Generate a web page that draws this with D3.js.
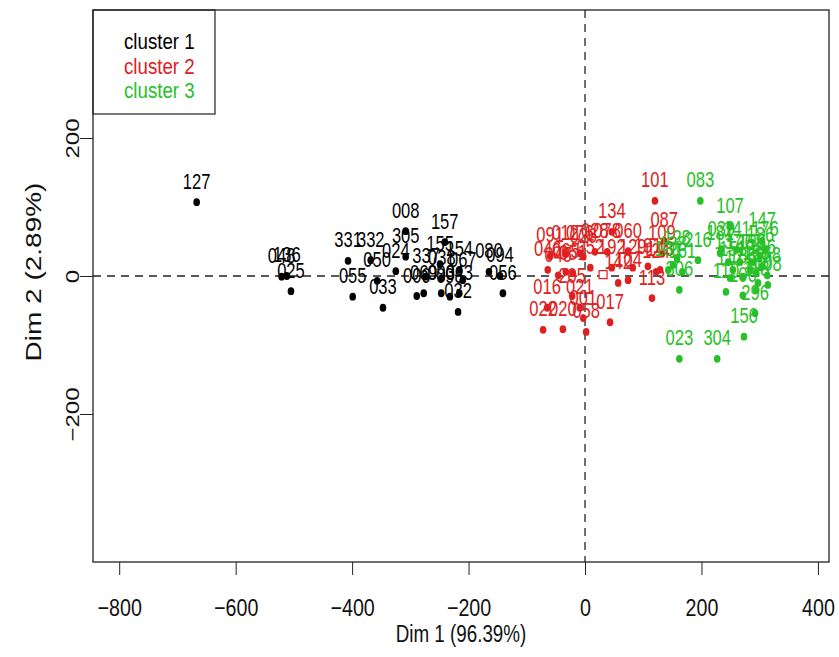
<!DOCTYPE html>
<html><head><meta charset="utf-8">
<script src="https://cdn.jsdelivr.net/npm/d3@7"></script>
<style>body{margin:0;background:#fff}svg{display:block}text{font-family:"Liberation Sans",Arial,sans-serif}</style>
</head><body>
<svg id="c" width="839" height="657"></svg>
<script>
// ---- data (Dim 1, Dim 2 coordinates) ----
const cluster1Labels = ["127","048","136","025","331","332","055","050","033","024","305","008","157","006","069","337","155","038","093","098","154","067","043","032","080","094","056"];
const cluster1X = [-667,-521,-512,-505,-407,-368,-399,-357,-347,-325,-308,-308,-241,-289,-277,-273,-249,-246,-247,-232,-216,-210,-216,-218,-165,-146,-141];
const cluster1Y = [107,-1,0,-22,22,23,-30,-7,-46,7,28,65,49,-29,-25,-1,17,-3,-25,-30,9,-6,-25,-52,6,0,-25];

const cluster2Labels = ["101","134","087","091","012","076","028","078","060","109","046","065","052","192","129","191","142","143","124","205","016","021","001","017","022","020","058","113","045","051","026","104"];
const cluster2X = [120,46,136,-60,-34,-9,17,38,74,132,-64,-33,9,46,82,108,57,129,122,-22,-65,-9,-3,43,-72,-38,2,115,-46,-21,-3,74];
const cluster2Y = [109,64,51,29,32,33,35,35,36,32,9,6,12,12,12,14,-10,9,6,-29,-46,-46,-61,-67,-78,-77,-81,-32,1,4,28,-6];

const cluster3Labels = ["083","107","023","304","156","296","306","110","039","147","216","128","161","131","138","188","198","168","146","158","100","106","118","186","176","196","108","126","117","181","141","137","151"];
const cluster3X = [198,249,162,227,273,292,162,242,234,304,194,158,167,143,151,271,284,294,304,313,297,271,294,301,309,287,314,266,249,232,261,246,254];
const cluster3Y = [109,72,-120,-120,-88,-54,-20,-23,39,51,23,25,6,9,16,-1,9,4,13,1,-10,-28,-20,29,38,20,-13,20,-3,33,38,20,9];

const squareX = [31], squareY = [2];

const xTicks = [-800,-600,-400,-200,0,200,400];
const yTicks = [-200,0,200];
const legendLabels = ["cluster 1","cluster 2","cluster 3"];
const xTitle = "Dim 1 (96.39%)", yTitle = "Dim 2 (2.89%)";

// ---- layout ----
const colors = ["#000000","#e02020","#27c027"];
const L = 93, R = 829, T = 10, B = 562;
const SX = 0.8; // horizontal squeeze of glyphs, as in the reference
const x = d3.scaleLinear().domain([-845,419]).range([L,R]);
const y = d3.scaleLinear().domain([-414.5,385.5]).range([B,T]);
const svg = d3.select("#c");

// zero lines
svg.append("line").attr("x1",L).attr("x2",R).attr("y1",y(0)).attr("y2",y(0))
  .attr("stroke","#222").attr("stroke-width",1.3).attr("stroke-dasharray","8,6");
svg.append("line").attr("x1",x(0)).attr("x2",x(0)).attr("y1",T).attr("y2",B)
  .attr("stroke","#222").attr("stroke-width",1.3).attr("stroke-dasharray","8,6");

// axes
const xAxis = d3.axisBottom(x).tickValues(xTicks).tickSize(13).tickFormat(d3.format("d"));
const gx = svg.append("g").attr("transform",`translate(0,${B})`).call(xAxis);
gx.select(".domain").remove();
gx.selectAll("line").attr("stroke","#222");
gx.selectAll("text").attr("font-size",24).attr("fill","#111").attr("font-family","Liberation Sans, Arial")
  .attr("x",0).attr("y",0).attr("dy",null).attr("text-anchor","middle")
  .attr("transform",`translate(0,54) scale(0.82,1)`);

const yAxis = d3.axisLeft(y).tickValues(yTicks).tickSize(13).tickFormat(d3.format("d"));
const gy = svg.append("g").attr("transform",`translate(${L},0)`).call(yAxis);
gy.select(".domain").remove();
gy.selectAll("line").attr("stroke","#222");
gy.selectAll("text").attr("font-size",24).attr("fill","#111").attr("font-family","Liberation Sans, Arial")
  .attr("text-anchor","middle").attr("x",0).attr("y",0).attr("dy",null)
  .attr("transform",`translate(-14,0) scale(0.77,1) rotate(-90)`);

// titles
svg.append("text").attr("transform",`translate(${(L+R)/2},642) scale(${SX},1)`).attr("text-anchor","middle")
  .attr("font-size",23.5).attr("fill","#111").text(xTitle);
svg.append("text").attr("transform",`translate(41,272) scale(0.8,1) rotate(-90)`).attr("text-anchor","middle")
  .attr("font-size",28).attr("fill","#111").text(yTitle);

// points & labels
const clusters = [
  {labels:cluster1Labels,xs:cluster1X,ys:cluster1Y},
  {labels:cluster2Labels,xs:cluster2X,ys:cluster2Y},
  {labels:cluster3Labels,xs:cluster3X,ys:cluster3Y}
];
clusters.forEach((c,ci)=>{
  const data = c.labels.map((l,i)=>({l,x:c.xs[i],y:c.ys[i]}));
  svg.append("g").selectAll("ellipse").data(data).join("ellipse")
    .attr("cx",d=>x(d.x)).attr("cy",d=>y(d.y)).attr("rx",3.3).attr("ry",3.9).attr("fill",colors[ci]);
  svg.append("g").selectAll("text").data(data).join("text")
    .attr("transform",d=>`translate(${x(d.x)},${y(d.y)-13.5}) scale(0.77,1)`)
    .attr("text-anchor","middle")
    .attr("font-size",21.5).attr("fill",colors[ci]).text(d=>d.l);
});
svg.selectAll(null).data(squareX.map((v,i)=>({x:v,y:squareY[i]}))).join("rect")
  .attr("x",d=>x(d.x)-4).attr("y",d=>y(d.y)-4).attr("width",8).attr("height",8)
  .attr("fill","#fff").attr("stroke",colors[1]).attr("stroke-width",1.2);

// legend
svg.append("rect").attr("x",L).attr("y",T).attr("width",122).attr("height",104)
  .attr("fill","#fff").attr("stroke","#222").attr("stroke-width",1.2);
legendLabels.forEach((t,i)=>{
  svg.append("text").attr("transform",`translate(124,${49+i*24.5}) scale(0.85,1)`).attr("font-size",22)
    .attr("fill",colors[i]).text(t);
});

// box
svg.append("rect").attr("x",L).attr("y",T).attr("width",R-L).attr("height",B-T)
  .attr("fill","none").attr("stroke","#222").attr("stroke-width",1.3);
</script>
</body></html>
